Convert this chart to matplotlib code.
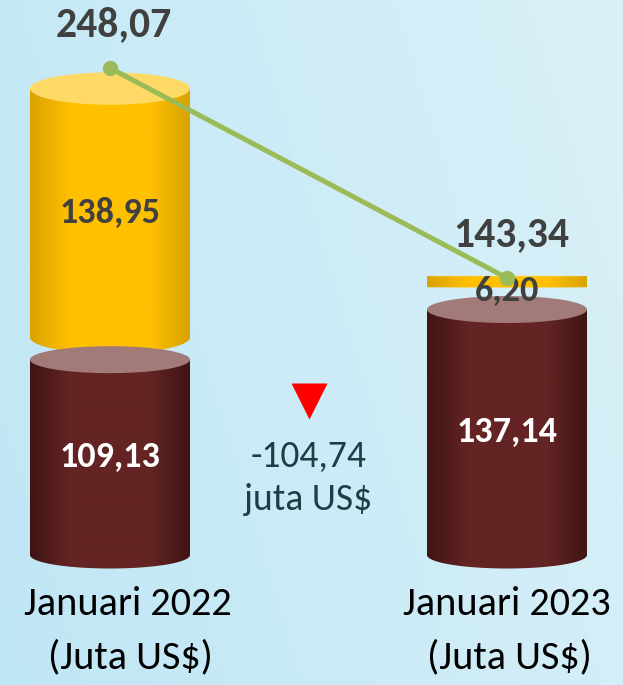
import numpy as np
import matplotlib
matplotlib.use("Agg")
import matplotlib.pyplot as plt
from matplotlib import font_manager
from matplotlib.patches import Ellipse, Polygon
from matplotlib.colors import LinearSegmentedColormap

# ---------------- data ----------------
categories = ["Januari 2022", "Januari 2023"]
unit_label = "(Juta US$)"
bottom_values = [109.13, 137.14]   # maroon series
top_values = [138.95, 6.20]        # gold series
totals = [248.07, 143.34]          # line series
change_value = -104.74
change_unit = "juta US$"

# ---------------- fonts ----------------
avail = {f.name for f in font_manager.fontManager.ttflist}
FONT = next((f for f in ["Carlito", "Lato", "Open Sans", "DejaVu Sans"] if f in avail), "DejaVu Sans")

def fmt(v):
    return f"{v:,.2f}".replace(",", "X").replace(".", ",").replace("X", ".")

W, H, DPI = 623, 685, 100
fig = plt.figure(figsize=(W / DPI, H / DPI), dpi=DPI)

# background gradient
bg = fig.add_axes([0, 0, 1, 1])
bg.set_axis_off()
gx = np.linspace(0, 1, 256)
gy = np.linspace(0, 1, 256)
GX, GY = np.meshgrid(gx, gy)
t = np.clip(0.75 * GX + 0.25 * (1 - GY), 0, 1)
c0 = np.array([0.75, 0.902, 0.961])
c1 = np.array([0.855, 0.945, 0.973])
img = c0[None, None, :] * (1 - t[..., None]) + c1[None, None, :] * t[..., None]
bg.imshow(img, extent=[0, 1, 0, 1], aspect="auto", origin="upper")
bg.set_xlim(0, 1); bg.set_ylim(0, 1)

# main axes: pixel mapping by style constants
scale = 1.79          # px per unit
base_px = 555         # baseline pixel row
x0_px, dx_px = 110, 397
ax = fig.add_axes([0, 0, 1, 1])
ax.set_axis_off()
ax.patch.set_alpha(0)
ax.set_xlim(-x0_px / dx_px, (W - x0_px) / dx_px)
ax.set_ylim(-(H - base_px) / scale, base_px / scale)

bar_w = 160 / dx_px
gap = 12.5
ell_h = 27 / scale

def grad_cmap(col, dark):
    return LinearSegmentedColormap.from_list("g", [dark, col, col, col, dark])

def cylinder(x, y0, h, col, dark, topcol, eh):
    hw = bar_w / 2
    th = np.linspace(np.pi, 2 * np.pi, 60)
    arc = np.column_stack([x + hw * np.cos(th), y0 + eh / 2 * np.sin(th)])
    verts = np.vstack([[x - hw, y0 + h], arc, [x + hw, y0 + h], [x - hw, y0 + h]])
    body = Polygon(verts, closed=True, facecolor="none", edgecolor="none")
    ax.add_patch(body)
    grad = np.linspace(0, 1, 200)[None, :]
    im = ax.imshow(grad, cmap=grad_cmap(col, dark), aspect="auto",
                   extent=[x - hw, x + hw, y0 - eh, y0 + h + eh], zorder=2,
                   interpolation="bilinear")
    im.set_clip_path(body)
    ax.add_patch(Ellipse((x, y0 + h), bar_w, eh, facecolor=topcol,
                         edgecolor="none", zorder=3))

xs = np.arange(len(categories))
for i in xs:
    cylinder(i, 0, bottom_values[i], "#632423", "#3f1514", "#a27b79", ell_h)
    eh = ell_h * 1.2 if top_values[i] > 20 else 0.4
    cylinder(i, bottom_values[i] + gap, top_values[i], "#ffc000", "#d9a300",
             "#ffd966", eh)
    ax.text(i, bottom_values[i] / 2, fmt(bottom_values[i]), ha="center", va="center",
            color="white", fontsize=26, fontweight="bold", family=FONT, zorder=5)
    ax.text(i, bottom_values[i] + gap + top_values[i] / 2 - (5 if top_values[i] < 20 else 0),
            fmt(top_values[i]), ha="center", va="center",
            color="#404040", fontsize=26, fontweight="bold", family=FONT, zorder=6)

# line on secondary mapping
l_scale, l_base = 2.005, 565.4
ax2 = fig.add_axes([0, 0, 1, 1], sharex=ax)
ax2.set_axis_off()
ax2.patch.set_alpha(0)
ax2.set_ylim(-(H - l_base) / l_scale, l_base / l_scale)
ax2.plot(xs, totals, color="#9bbb59", lw=3.6, marker="o", ms=10, zorder=7)
for i in xs:
    ax2.annotate(fmt(totals[i]), (i, totals[i]), xytext=(3, 31), textcoords="offset points",
                 ha="center", va="center", color="#404040", fontsize=30,
                 fontweight="bold", family=FONT, zorder=8)

# change indicator
mid = xs.mean()
ax.plot([mid], [(base_px - 401) / scale], marker="v", color="red", ms=26, mec="none")
ax.text(mid, (base_px - 478) / scale, f"{fmt(change_value)}\n{change_unit}",
        ha="center", va="center", color="#1e3d46", fontsize=27, family=FONT,
        linespacing=1.4)

# category labels
label_dx = [18, 0]
for i in xs:
    ax.annotate(categories[i], (i, 0), xytext=(label_dx[i] * 0.72, -49 * 0.72),
                textcoords="offset points", ha="center", va="center",
                fontsize=29, family=FONT, color="black")
    ax.annotate(unit_label, (i, 0), xytext=(label_dx[i] * 0.72 + 2, -102 * 0.72),
                textcoords="offset points", ha="center", va="center",
                fontsize=29, family=FONT, color="black")

fig.savefig("out.png", dpi=DPI)
